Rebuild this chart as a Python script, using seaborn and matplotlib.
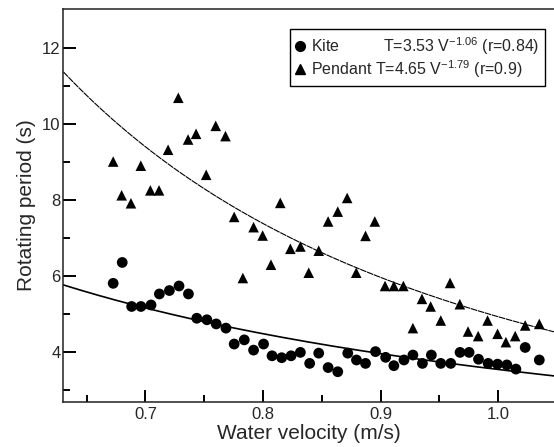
import numpy as np
import pandas as pd
import matplotlib
matplotlib.use("Agg")
import matplotlib.pyplot as plt
from matplotlib.ticker import FixedLocator
from matplotlib.lines import Line2D
import seaborn as sns

# ---- data ----
kite_v = [0.6726, 0.6803, 0.6883, 0.6962, 0.7048, 0.7119, 0.7204, 0.7286, 0.7366, 0.7437,
          0.7523, 0.7602, 0.7685, 0.7755, 0.7841, 0.7920, 0.8005, 0.8077, 0.8159, 0.8239,
          0.8318, 0.8397, 0.8474, 0.8554, 0.8636, 0.8721, 0.8795, 0.8872, 0.8957, 0.9043,
          0.9113, 0.9199, 0.9275, 0.9356, 0.9432, 0.9512, 0.9597, 0.9676, 0.9753, 0.9833,
          0.9915, 0.9995, 1.0074, 1.0151, 1.0230, 1.0350]
kite_t = [5.80, 6.35, 5.19, 5.19, 5.23, 5.52, 5.61, 5.73, 5.52, 4.88,
          4.84, 4.73, 4.62, 4.20, 4.31, 4.04, 4.20, 3.89, 3.84, 3.89,
          3.98, 3.69, 3.96, 3.58, 3.47, 3.96, 3.78, 3.69, 4.00, 3.85,
          3.63, 3.78, 3.91, 3.69, 3.91, 3.69, 3.69, 3.98, 3.98, 3.80,
          3.69, 3.67, 3.65, 3.54, 4.11, 3.78]

pendant_v = [0.6726, 0.6798, 0.6877, 0.6961, 0.7042, 0.7116, 0.7193, 0.7280, 0.7363, 0.7431,
             0.7517, 0.7598, 0.7681, 0.7755, 0.7829, 0.7920, 0.7997, 0.8068, 0.8147, 0.8233,
             0.8318, 0.8389, 0.8474, 0.8554, 0.8636, 0.8716, 0.8793, 0.8872, 0.8951, 0.9038,
             0.9113, 0.9194, 0.9275, 0.9352, 0.9426, 0.9512, 0.9591, 0.9674, 0.9744, 0.9830,
             0.9910, 0.9995, 1.0066, 1.0145, 1.0230, 1.0350]
pendant_t = [9.01, 8.12, 7.91, 8.90, 8.25, 8.25, 9.32, 10.69, 9.59, 9.74,
             8.66, 9.95, 9.68, 7.55, 5.94, 7.28, 7.06, 6.29, 7.92, 6.71,
             6.77, 6.08, 6.66, 7.43, 7.69, 8.05, 6.08, 7.05, 7.43, 5.73,
             5.73, 5.73, 4.62, 5.39, 5.19, 4.82, 5.81, 5.25, 4.53, 4.41,
             4.82, 4.47, 4.25, 4.41, 4.69, 4.73]

# fitted power-law curves as drawn (coefficient, exponent)
kite_fit = (3.53, -1.06)
pendant_fit = (4.92, -1.815)

legend_labels = ["Kite" + " " * 10 + r"T=3.53 V$^{\mathregular{-1.06}}$ (r=0.84)",
                 "Pendant" + " " + r"T=4.65 V$^{\mathregular{-1.79}}$ (r=0.9)"]
x_ticks = [0.7, 0.8, 0.9, 1.0]
x_ticklabels = ["0.7", "0.8", "0.9", "1.0"]
y_ticks = [4, 6, 8, 10, 12]

# ---- style ----
sns.set_style("ticks")
plt.rcParams["font.family"] = ["Liberation Sans", "DejaVu Sans"]
plt.rcParams["mathtext.fontset"] = "custom"
plt.rcParams["mathtext.rm"] = "Liberation Sans"
plt.rcParams["mathtext.it"] = "Liberation Sans:italic"
plt.rcParams["mathtext.bf"] = "Liberation Sans:bold"

fig = plt.figure(figsize=(5.54, 4.47), dpi=100)
ax = fig.add_axes([0.1143, 0.1013, 1.0 - 0.1143, 0.9799 - 0.1013])

xlim = (0.6302, 1.0475)
ylim = (2.68, 13.03)

kite = pd.DataFrame({"v": kite_v, "t": kite_t})
pend = pd.DataFrame({"v": pendant_v, "t": pendant_t})

vv = np.linspace(xlim[0], xlim[1], 200)
kite_curve = pd.DataFrame({"v": vv, "t": kite_fit[0] * vv ** kite_fit[1]})
pend_curve = pd.DataFrame({"v": vv, "t": pendant_fit[0] * vv ** pendant_fit[1]})

sns.lineplot(data=kite_curve, x="v", y="t", ax=ax, color="black", linewidth=1.2)
sns.lineplot(data=pend_curve, x="v", y="t", ax=ax, color="black", linewidth=0.8,
             linestyle=(0, (6, 0.6)))
sns.scatterplot(data=kite, x="v", y="t", ax=ax, marker="o", s=60, color="black",
                edgecolor="none", zorder=3)
sns.scatterplot(data=pend, x="v", y="t", ax=ax, marker="^", s=58, color="black",
                edgecolor="none", zorder=3)

ax.set_xlim(*xlim)
ax.set_ylim(*ylim)
ax.xaxis.set_major_locator(FixedLocator(x_ticks))
ax.set_xticklabels(x_ticklabels)
ax.xaxis.set_minor_locator(FixedLocator([0.65, 0.75, 0.85, 0.95]))
ax.yaxis.set_major_locator(FixedLocator(y_ticks))
ax.yaxis.set_minor_locator(FixedLocator([3, 5, 7, 9, 11]))

ax.tick_params(axis="both", which="major", direction="in", length=9, width=1.4,
               labelsize=12, color="black")
ax.tick_params(axis="both", which="minor", direction="in", length=5, width=1.4,
               color="black")
ax.tick_params(axis="y", which="major", pad=2)
ax.tick_params(axis="x", which="major", pad=4)

for side in ["left", "bottom", "top"]:
    ax.spines[side].set_linewidth(1.1)
    ax.spines[side].set_color("#222222")
ax.spines["right"].set_visible(False)

ax.set_xlabel("Water velocity (m/s)", fontsize=15, labelpad=1)
ax.set_ylabel("Rotating period (s)", fontsize=15, labelpad=4)

handles = [Line2D([], [], marker="o", color="black", linestyle="none", markersize=7),
           Line2D([], [], marker="^", color="black", linestyle="none", markersize=7)]
leg = ax.legend(handles, legend_labels, loc="upper right", bbox_to_anchor=(0.982, 0.948),
                fontsize=11.5, frameon=True, fancybox=False, handlelength=0.6,
                handletextpad=0.4, borderpad=0.35, labelspacing=0.1, borderaxespad=0)
leg.get_frame().set_edgecolor("black")
leg.get_frame().set_linewidth(1.0)
leg.get_frame().set_alpha(1)

fig.savefig("out.png", dpi=100)
